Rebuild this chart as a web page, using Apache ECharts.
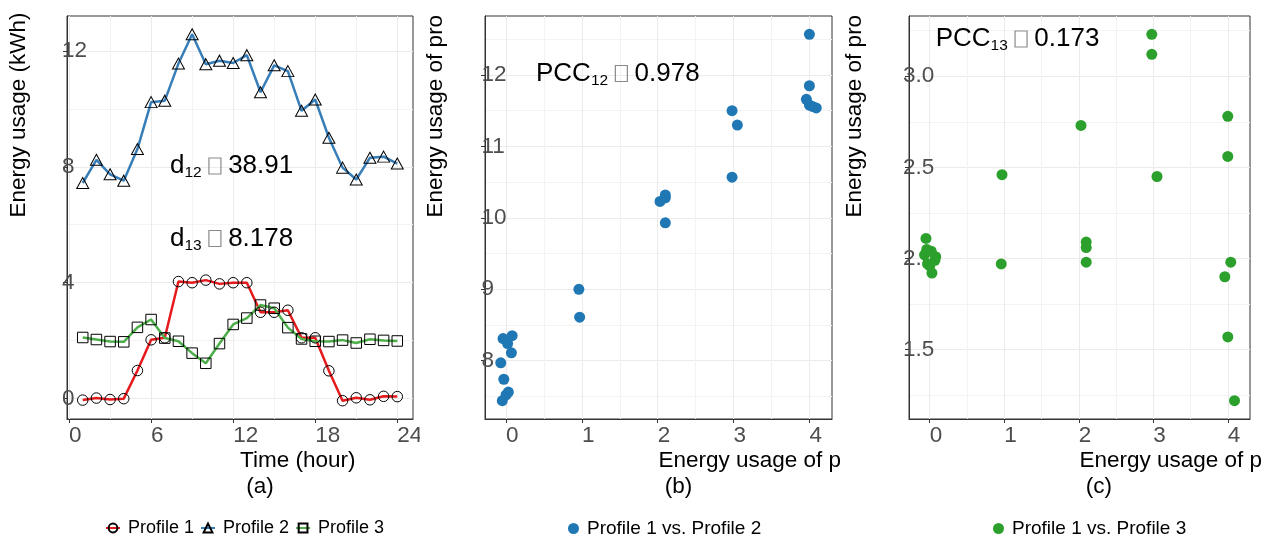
<!DOCTYPE html>
<html><head><meta charset="utf-8">
<script src="https://cdn.jsdelivr.net/npm/echarts@6/dist/echarts.min.js"></script>
<style>
html,body{margin:0;padding:0;background:#fff;width:1270px;height:538px;overflow:hidden}
.p{position:absolute;top:0;height:538px;overflow:hidden}
#pb,#pc{clip-path:inset(15px 0 0 0)}
</style></head><body>
<div id="pa" class="p" style="left:0;width:420px"></div>
<div id="pb" class="p" style="left:420px;width:420px"></div>
<div id="pc" class="p" style="left:840px;width:423px"></div>
<script>
// ---------------- data ----------------
const hours = [1,2,3,4,5,6,7,8,9,10,11,12,13,14,15,16,17,18,19,20,21,22,23,24];
const profile1 = [-0.05,0.02,-0.03,0.00,0.97,2.03,2.10,4.04,4.00,4.09,3.96,4.00,4.00,2.98,2.98,3.05,2.10,2.10,0.96,-0.07,0.03,-0.04,0.08,0.07];
const profile2 = [7.44,8.24,7.74,7.52,8.61,10.23,10.28,11.56,12.57,11.54,11.66,11.58,11.85,10.57,11.50,11.30,9.93,10.32,9.00,7.97,7.56,8.31,8.35,8.11];
const profile3 = [2.11,2.04,1.97,1.96,2.46,2.73,2.09,1.98,1.57,1.22,1.90,2.56,2.78,3.23,3.12,2.45,2.06,1.98,1.97,2.02,1.92,2.05,2.01,1.99];
const seriesNames = ['Profile 1','Profile 2','Profile 3'];
const scatterNames = ['Profile 1 vs. Profile 2','Profile 1 vs. Profile 3'];
// tick labels (major) and minor grid positions
const aXTicks = [0,6,12,18,24];
const aYTicks = [0,4,8,12];
const aXMinor = [0,3,6,9,12,15,18,21,24];
const aYMinor = [0,2,4,6,8,10,12];
const bXTicks = [0,1,2,3,4];
const bYTicks = [8,9,10,11,12];
const bXMinor = [0,0.5,1,1.5,2,2.5,3,3.5,4];
const bYMinor = [7.5,8,8.5,9,9.5,10,10.5,11,11.5,12,12.5];
const cXTicks = [0,1,2,3,4];
const cYTicks = [1.5,2.0,2.5,3.0];
const cXMinor = [0,0.5,1,1.5,2,2.5,3,3.5,4];
const cYMinor = [1.25,1.5,1.75,2,2.25,2.5,2.75,3,3.25];
const dText = ['38.91','8.178'];
const pccText = ['0.978','0.173'];

// ---------------- helpers ----------------
const FONT = "'Liberation Sans', Arial, sans-serif";
const MAJOR = '#ebebeb', MINOR = '#f3f3f3';
function expand(vals){const lo=Math.min(...vals),hi=Math.max(...vals),r=hi-lo;return [lo-0.05*r,hi+0.05*r];}
const last = a => a[a.length-1];

function buildPanel(c){
  const [x0,x1]=c.xr,[y0,y1]=c.yr;
  const px=v=>c.L+(v-x0)/(x1-x0)*c.W;
  const py=v=>c.T+(y1-v)/(y1-y0)*c.H;
  const g=o=>Object.assign({outerBoundsMode:'none',containLabel:false},o);
  const grid=[
    g({left:c.L,top:c.T,width:c.W,height:c.H,show:true,borderColor:'#333',borderWidth:1,backgroundColor:'rgba(0,0,0,0)'}),
    g({left:px(c.xMinor[0]),width:px(last(c.xMinor))-px(c.xMinor[0]),top:c.T,height:c.H}),
    g({left:c.L,width:c.W,top:py(last(c.yMinor)),height:py(c.yMinor[0])-py(last(c.yMinor))}),
    g({left:px(c.xTicks[0]),width:px(last(c.xTicks))-px(c.xTicks[0]),top:c.T,height:c.H}),
    g({left:c.L,width:c.W,top:py(last(c.yTicks)),height:py(c.yTicks[0])-py(last(c.yTicks))})
  ];
  const off={axisLine:{show:false},axisTick:{show:false},axisLabel:{show:false}};
  const lbl={fontSize:22.5,color:'#4d4d4d',fontFamily:FONT};
  const xAxis=[
    {type:'value',gridIndex:0,min:x0,max:x1,axisLine:{show:true,onZero:false,lineStyle:{color:'#333',width:1}},
     axisTick:{show:false},axisLabel:{show:false},splitLine:{show:false},
     name:c.xName,nameLocation:'middle',nameGap:c.xNameGap,
     nameTextStyle:{fontSize:22.5,color:'#000',fontFamily:FONT,align:'left',verticalAlign:'top',lineHeight:26}},
    Object.assign({type:'value',gridIndex:1,min:c.xMinor[0],max:last(c.xMinor),interval:c.xMinor[1]-c.xMinor[0],
     splitLine:{show:true,lineStyle:{color:MINOR,width:1}}},off),
    {type:'value',gridIndex:2,show:false},
    {type:'value',gridIndex:3,min:c.xTicks[0],max:last(c.xTicks),interval:c.xTicks[1]-c.xTicks[0],
     axisLine:{show:false},axisTick:{show:true,length:4,lineStyle:{color:'#333'}},
     axisLabel:Object.assign({align:'left',margin:5,formatter:v=>String(v)},lbl),
     splitLine:{show:true,lineStyle:{color:MAJOR,width:1}}},
    {type:'value',gridIndex:4,show:false}
  ];
  const yAxis=[
    {type:'value',gridIndex:0,min:y0,max:y1,axisLine:{show:true,onZero:false,lineStyle:{color:'#333',width:1}},
     axisTick:{show:false},axisLabel:{show:false},splitLine:{show:false},
     name:c.yName,nameLocation:'middle',nameGap:c.yNameGap,
     nameTextStyle:{fontSize:22.5,color:'#000',fontFamily:FONT,align:'left',verticalAlign:'middle'}},
    {type:'value',gridIndex:1,show:false},
    Object.assign({type:'value',gridIndex:2,min:c.yMinor[0],max:last(c.yMinor),interval:c.yMinor[1]-c.yMinor[0],
     splitLine:{show:true,lineStyle:{color:MINOR,width:1}}},off),
    {type:'value',gridIndex:3,show:false},
    {type:'value',gridIndex:4,min:c.yTicks[0],max:last(c.yTicks),interval:c.yTicks[1]-c.yTicks[0],
     axisLine:{show:false},axisTick:{show:true,length:4,lineStyle:{color:'#333'}},
     axisLabel:Object.assign({align:'left',margin:c.yLabelMargin,formatter:c.yFmt},lbl),
     splitLine:{show:true,lineStyle:{color:MAJOR,width:1}}}
  ];
  return {grid,xAxis,yAxis};
}

function annot(x,y,main,sub,val){
  return {type:'text',x:x,y:y,z:100,style:{
    text:'{m|'+main+'}{s|'+sub+'}{m| }{b| }{m| '+val+'}',
    align:'left',verticalAlign:'middle',
    rich:{
      m:{fontSize:26,fontFamily:FONT,fill:'#000',color:'#000',lineHeight:30},
      s:{fontSize:15.5,fontFamily:FONT,fill:'#000',color:'#000',lineHeight:22,verticalAlign:'bottom'},
      b:{fontSize:10,fontFamily:FONT,width:12,height:16,borderColor:'#8a8a8a',borderWidth:1.2,verticalAlign:'middle'}
    }}};
}
function legendOf(names,left,extra){
  return Object.assign({data:names,left:left,top:519,padding:0,itemWidth:14,itemHeight:11,itemGap:6,selectedMode:false,
    textStyle:{fontSize:19,color:'#000',fontFamily:FONT,padding:[0,0,0,3]}},extra||{});
}

// ---------------- panel (a) ----------------
const aY = expand(profile1.concat(profile2,profile3));
const pa = buildPanel({L:67,T:16,W:346,H:403,xr:expand(hours),yr:aY,
  xTicks:aXTicks,yTicks:aYTicks,xMinor:aXMinor,yMinor:aYMinor,
  xName:'Time (hour)\n (a)',xNameGap:29,yName:'Energy usage (kWh)',yNameGap:48.7,
  yLabelMargin:5,yFmt:v=>String(v)});
const lineDefs=[[profile1,'#E41A1C','circle',10.5],[profile2,'#377EB8','triangle',[12,11]],[profile3,'#4DAF4A','rect',10.5]];
const chartA = echarts.init(document.getElementById('pa'),null,{renderer:'canvas'});
chartA.setOption(Object.assign(pa,{
  animation:false,
  legend:legendOf(seriesNames,105,{textStyle:{fontSize:18,color:'#000',fontFamily:FONT,padding:[0,0,0,3]}}),
  series:lineDefs.map((d,k)=>({
    type:'line',name:seriesNames[k],xAxisIndex:0,yAxisIndex:0,clip:false,
    data:hours.map((h,i)=>[h,d[0][i]]),
    symbol:d[2],symbolSize:d[3],showAllSymbol:true,
    lineStyle:{color:d[1],width:2.5},
    itemStyle:{color:'rgba(255,255,255,0)',borderColor:'#000',borderWidth:1},
    emphasis:{disabled:true}
  })),
  graphic:[annot(170,166,'d','12',dText[0]),annot(170,238.5,'d','13',dText[1])]
}));

// ---------------- panel (b) ----------------
const sx = expand(profile1);
const pb = buildPanel({L:65,T:16,W:347,H:403,xr:sx,yr:expand(profile2),
  xTicks:bXTicks,yTicks:bYTicks,xMinor:bXMinor,yMinor:bYMinor,
  xName:'Energy usage of profile 1\n (b)',xNameGap:29,yName:'Energy usage of profile 2',yNameGap:48.8,
  yLabelMargin:3.6,yFmt:v=>String(v)});
const chartB = echarts.init(document.getElementById('pb'),null,{renderer:'canvas'});
chartB.setOption(Object.assign(pb,{
  animation:false,
  legend:legendOf([scatterNames[0]],148,{itemWidth:11,icon:'circle'}),
  series:[{type:'scatter',name:scatterNames[0],xAxisIndex:0,yAxisIndex:0,clip:false,
    data:profile1.map((v,i)=>[v,profile2[i]]),symbolSize:11,itemStyle:{color:'#1F77B4',opacity:1},emphasis:{disabled:true}}],
  graphic:[annot(116,73.5,'PCC','12',pccText[0])]
}));

// ---------------- panel (c) ----------------
const pc = buildPanel({L:69,T:16,W:341,H:403,xr:sx,yr:expand(profile3),
  xTicks:cXTicks,yTicks:cYTicks,xMinor:cXMinor,yMinor:cYMinor,
  xName:'Energy usage of profile 1\n (c)',xNameGap:29,yName:'Energy usage of profile 3',yNameGap:54,
  yLabelMargin:6,yFmt:v=>v.toFixed(1)});
const chartC = echarts.init(document.getElementById('pc'),null,{renderer:'canvas'});
chartC.setOption(Object.assign(pc,{
  animation:false,
  legend:legendOf([scatterNames[1]],153,{itemWidth:11,icon:'circle'}),
  series:[{type:'scatter',name:scatterNames[1],xAxisIndex:0,yAxisIndex:0,clip:false,
    data:profile1.map((v,i)=>[v,profile3[i]]),symbolSize:11,itemStyle:{color:'#2CA02C',opacity:1},emphasis:{disabled:true}}],
  graphic:[annot(95.7,39,'PCC','13',pccText[1])]
}));
</script>
</body></html>
